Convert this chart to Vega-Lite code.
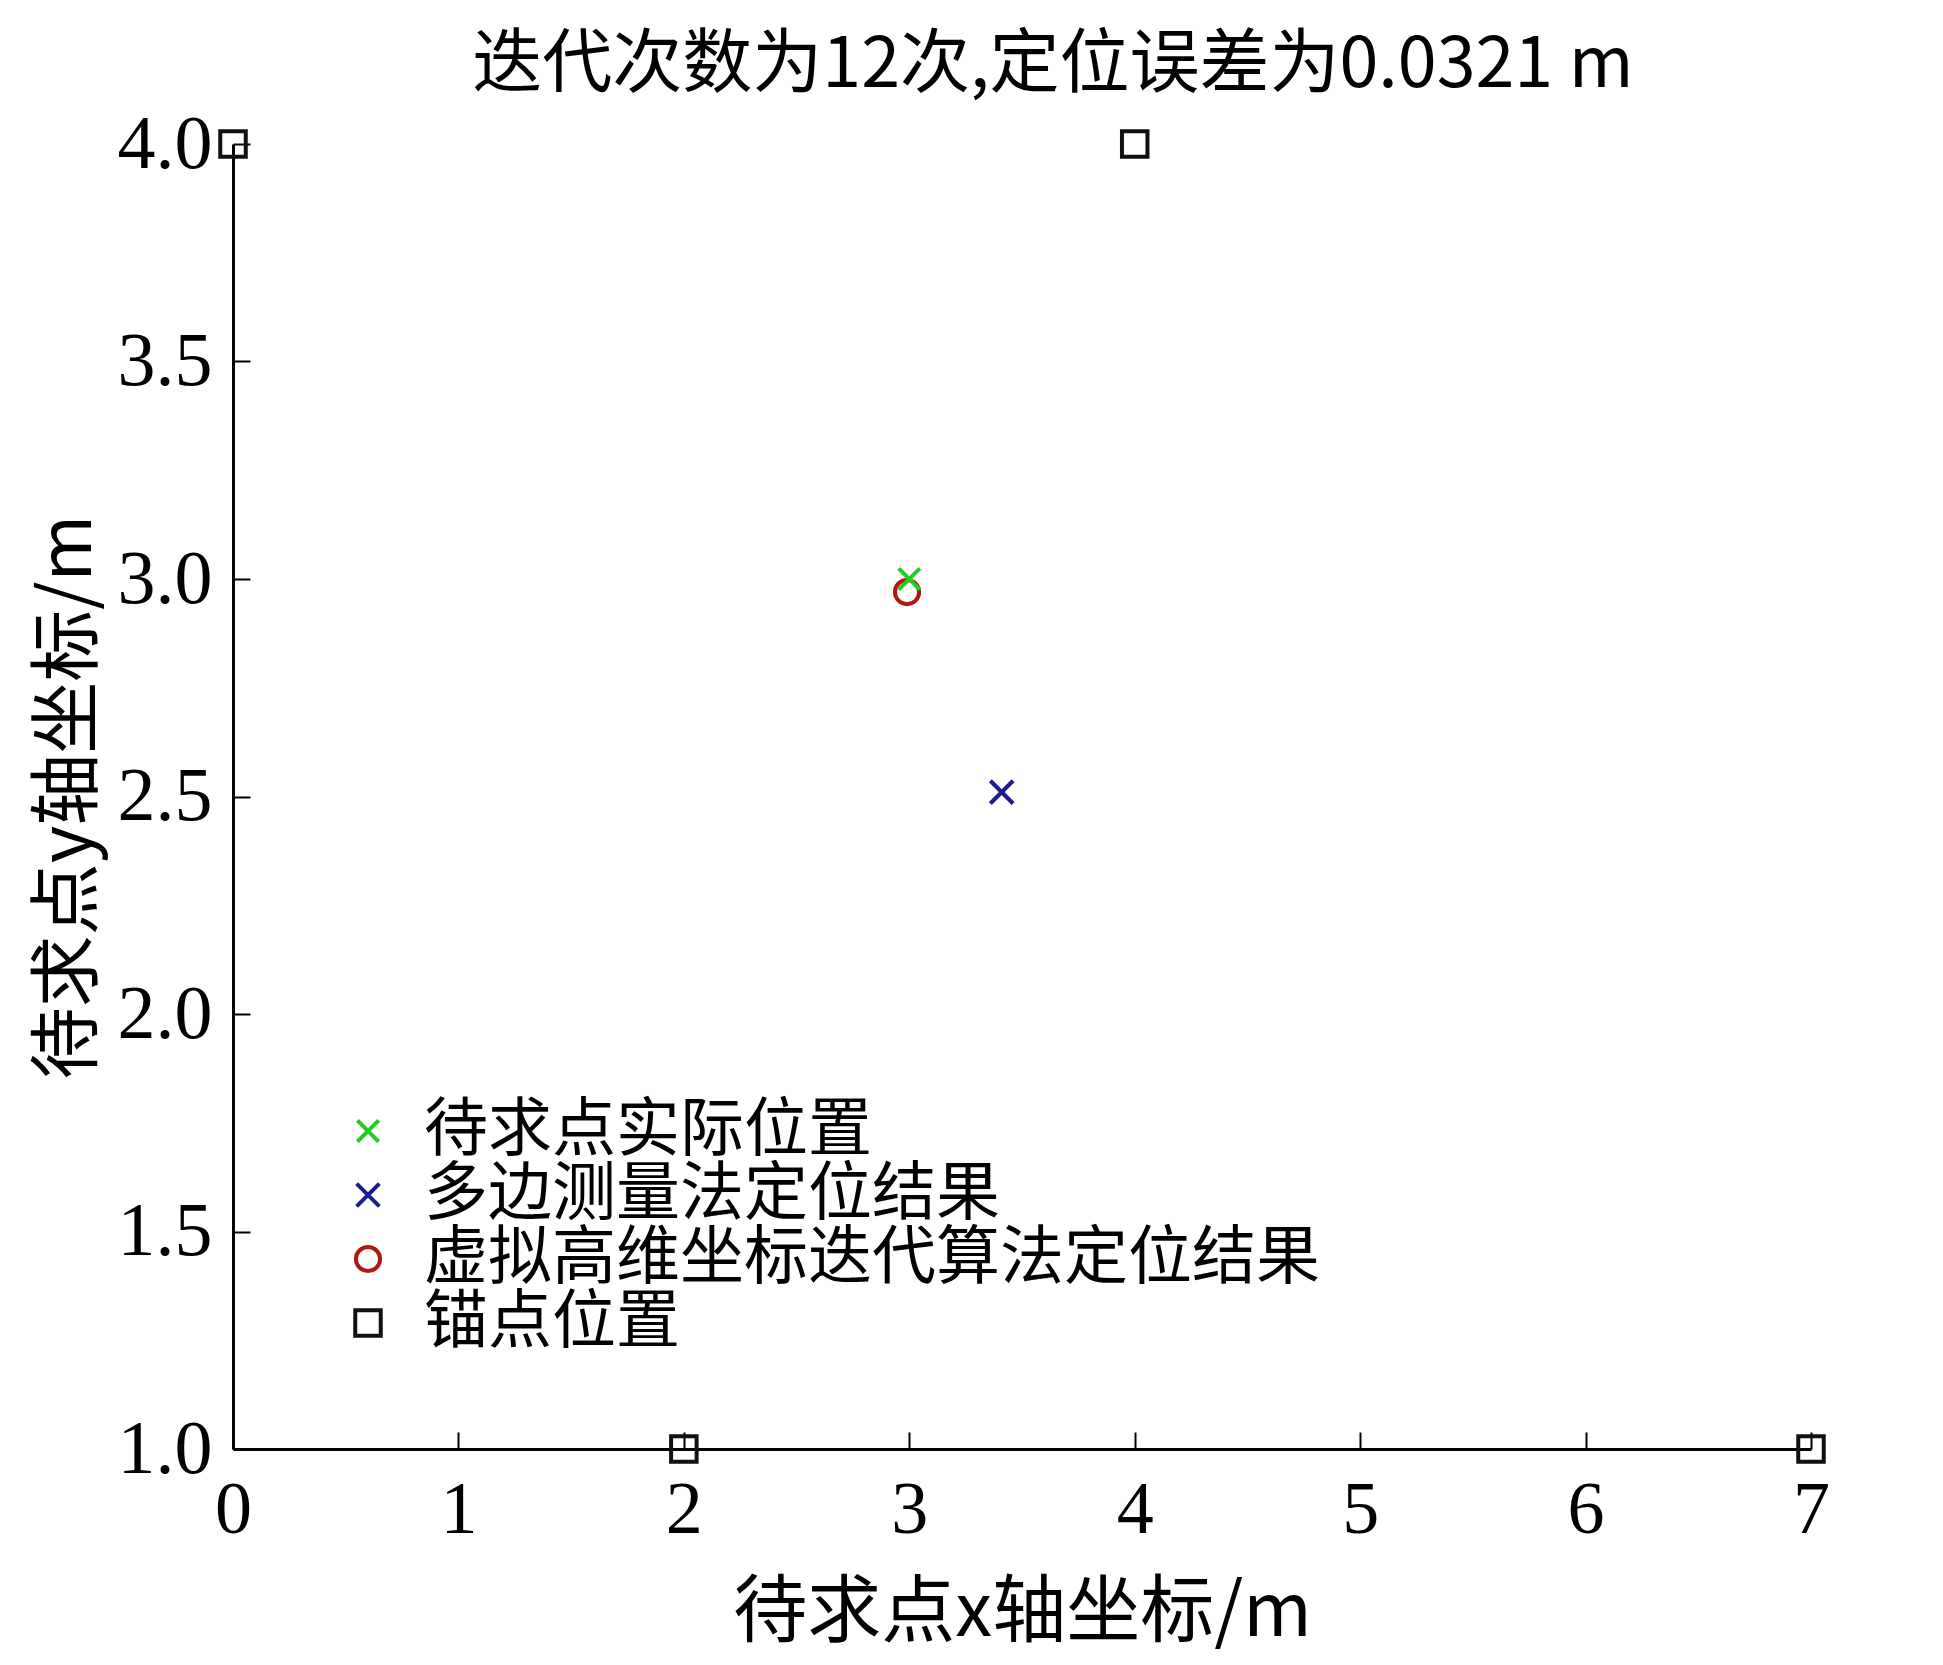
{
  "$schema": "https://vega.github.io/schema/vega-lite/v6.json",
  "width": 1578,
  "height": 1305,
  "autosize": {"type": "none"},
  "padding": {"left": 233, "top": 144, "right": 132, "bottom": 216},
  "background": "white",
  "config": {"view": {"stroke": null}},
  "title": {
    "text": "迭代次数为12次,定位误差为0.0321 m",
    "font": "Noto Sans CJK SC",
    "fontSize": 70,
    "fontWeight": "normal",
    "color": "black",
    "offset": 4,
    "dx": 31
  },
  "data": {
    "values": [
      {"x": 0, "y": 4, "series": "锚点位置"},
      {"x": 4, "y": 4, "series": "锚点位置"},
      {"x": 2, "y": 1, "series": "锚点位置"},
      {"x": 7, "y": 1, "series": "锚点位置"},
      {"x": 3.41, "y": 2.51, "series": "多边测量法定位结果"},
      {"x": 2.99, "y": 2.97, "series": "虚拟高维坐标迭代算法定位结果"},
      {"x": 3.0, "y": 3.0, "series": "待求点实际位置"}
    ]
  },
  "mark": {"type": "point", "filled": false, "strokeWidth": 4, "opacity": 1, "clip": false},
  "encoding": {
    "x": {
      "field": "x", "type": "quantitative",
      "scale": {"domain": [0, 7], "nice": false, "zero": false},
      "axis": {
        "title": "待求点x轴坐标/m",
        "values": [0, 1, 2, 3, 4, 5, 6, 7],
        "format": "d",
        "grid": false,
        "domainColor": "black", "domainWidth": 3,
        "tickColor": "black", "tickWidth": 2, "tickSize": -17,
        "labelFont": "Liberation Serif", "labelFontSize": 74, "labelColor": "black",
        "labelPadding": 42,
        "labelFlush": false,
        "titleFont": "Noto Sans CJK SC", "titleFontSize": 74, "titleFontWeight": "normal",
        "titleColor": "black", "titlePadding": 30
      }
    },
    "y": {
      "field": "y", "type": "quantitative",
      "scale": {"domain": [1, 4], "nice": false, "zero": false},
      "axis": {
        "title": "待求点y轴坐标/m",
        "values": [1, 1.5, 2, 2.5, 3, 3.5, 4],
        "format": ".1f",
        "grid": false,
        "domainColor": "black", "domainWidth": 3,
        "tickColor": "black", "tickWidth": 2, "tickSize": -17,
        "labelFont": "Liberation Serif", "labelFontSize": 76, "labelColor": "black",
        "labelPadding": 38,
        "labelFlush": false,
        "titleFont": "Noto Sans CJK SC", "titleFontSize": 72, "titleFontWeight": "normal",
        "titleColor": "black", "titlePadding": 12
      }
    },
    "color": {
      "field": "series", "type": "nominal",
      "scale": {
        "domain": ["待求点实际位置", "多边测量法定位结果", "虚拟高维坐标迭代算法定位结果", "锚点位置"],
        "range": ["#22cc22", "#1c1c8c", "#b01818", "#111111"]
      },
      "legend": {
        "title": null,
        "orient": "none",
        "legendX": 103,
        "legendY": 955,
        "labelFont": "Noto Sans CJK SC",
        "labelFontSize": 64,
        "labelColor": "black",
        "labelLimit": 1200,
        "labelOffset": 24,
        "rowPadding": 0,
        "symbolStrokeWidth": 4,
        "symbolFillColor": "transparent"
      }
    },
    "shape": {
      "field": "series", "type": "nominal",
      "scale": {
        "domain": ["待求点实际位置", "多边测量法定位结果", "虚拟高维坐标迭代算法定位结果", "锚点位置"],
        "range": ["M-1,-1L1,1M1,-1L-1,1", "M-1,-1L1,1M1,-1L-1,1", "circle", "square"]
      }
    },
    "size": {
      "field": "series", "type": "nominal",
      "scale": {
        "domain": ["待求点实际位置", "多边测量法定位结果", "虚拟高维坐标迭代算法定位结果", "锚点位置"],
        "range": [450, 650, 780, 640]
      }
    }
  }
}
